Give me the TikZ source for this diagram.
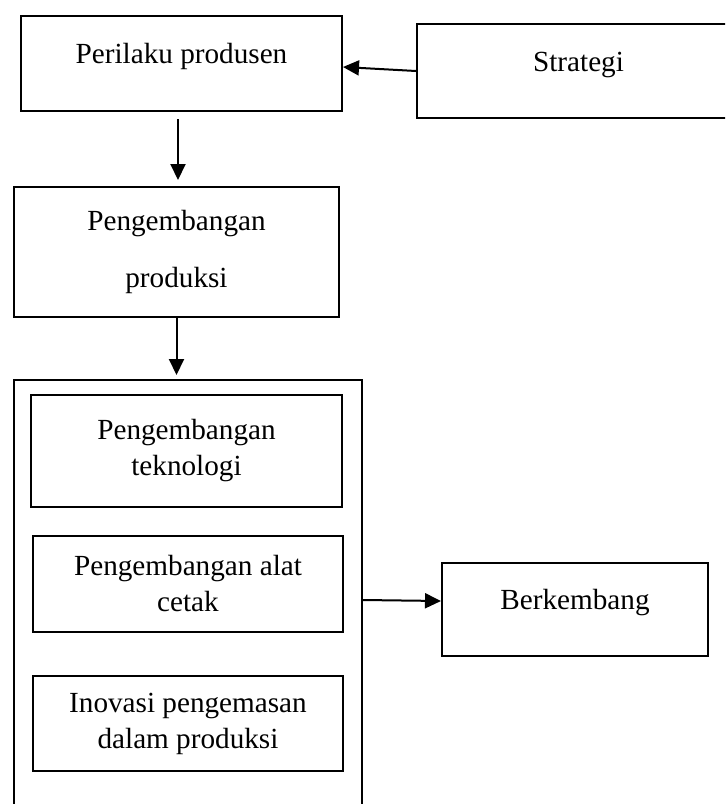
\documentclass[tikz,border=0pt]{standalone}
\usepackage{fontspec}
\setmainfont{Liberation Serif}
\usetikzlibrary{arrows.meta,positioning}

\begin{document}
\begin{tikzpicture}[x=0.5pt, y=-0.5pt,
  font=\fontsize{14.6pt}{18pt}\selectfont,
  box/.style={draw, line width=1pt, inner sep=0pt, align=center},
  oneline/.style={text height=0pt, text depth=0pt},
  link/.style={line width=1pt, -{Triangle[length=8pt, width=7.5pt]}}]
\useasboundingbox (0,0) rectangle (725,804);
\clip (-10,-10) rectangle (725,804);

% Top row (Strategi runs past the right edge)
\node[box, oneline, minimum width=160.5pt, minimum height=47.5pt] (perilaku) at (181.5,63.5) {Perilaku produsen};
\node[box, oneline, minimum width=161.5pt, minimum height=47pt] (strategi) at (578.5,71) {Strategi};

% Middle
\node[box, minimum width=162.5pt, minimum height=65pt] (produksi) at (176.5,252) {Pengembangan\\[10.5pt]produksi};

% Container (open at the bottom edge)
\node[box, minimum width=174pt, minimum height=220pt] (wadah) at (188,600) {};
\node[box, minimum width=155.5pt, minimum height=56pt] (teknologi) at (186.5,451) {Pengembangan\\teknologi};
\node[box, minimum width=155pt, minimum height=48pt] (alat) at (188,584) {Pengembangan alat\\cetak};
\node[box, minimum width=155pt, minimum height=47.5pt] (inovasi) at (188,723.5) {Inovasi pengemasan\\dalam produksi};

% Result
\node[box, oneline, minimum width=133pt, minimum height=46.5pt] (berkembang) at (575,609.5) {Berkembang};

% Arrows
\draw[link] (strategi.west) -- ([yshift=-1.75pt]perilaku.east);
\draw[link] ([shift={(-3.5,7)}]perilaku.south) -- ([shift={(1.5,-6)}]produksi.north);
\draw[link, shorten >=2pt] (produksi.south) -- (produksi.south |- wadah.north);
\draw[link] (wadah.east) -- ([yshift=4.25pt]berkembang.west);
\end{tikzpicture}
\end{document}
